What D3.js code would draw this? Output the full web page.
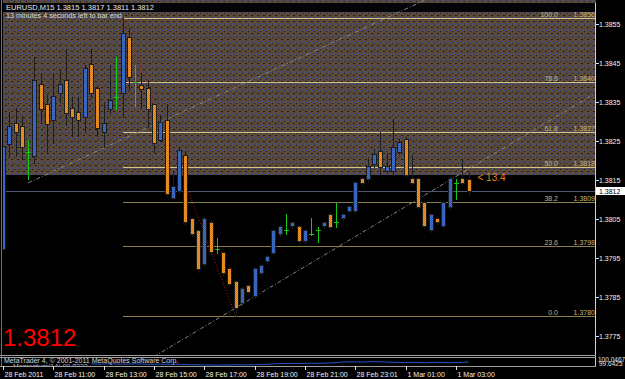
<!DOCTYPE html>
<html>
<head>
<meta charset="utf-8">
<script src="https://cdn.jsdelivr.net/npm/d3@7"></script>
<style>
html, body { margin: 0; padding: 0; background: #000; }
svg { display: block; font-family: "Liberation Sans", Arial, sans-serif; }
</style>
</head>
<body>
<div id="container"></div>
<script>
// EURUSD M15, bar 0 = 28 Feb 2011 09:00
const opens = [1.37973, 1.38241, 1.38293, 1.38285, 1.38221, 1.38211, 1.38393, 1.38341, 1.38303, 1.38372,
  1.38403, 1.38331, 1.38321, 1.38310, 1.38444, 1.38382, 1.38272, 1.38331, 1.38362, 1.38372,
  1.38513, 1.38400, 1.38390, 1.38382, 1.38341, 1.38252, 1.38300, 1.38103, 1.38121, 1.38211,
  1.38049, 1.38018, 1.37934, 1.38039, 1.37973, 1.37962, 1.37921, 1.37888, 1.37834, 1.37878,
  1.37852, 1.37911, 1.37942, 1.37962, 1.38011, 1.38021, 1.38031, 1.38029, 1.37993, 1.38011,
  1.38021, 1.38031, 1.38060, 1.38042, 1.38052, 1.38070, 1.38070, 1.38152, 1.38152, 1.38190,
  1.38221, 1.38172, 1.38172, 1.38221, 1.38252, 1.38152, 1.38152, 1.38090, 1.38021, 1.38049,
  1.38031, 1.38080, 1.38142, 1.38152, 1.38150];
const highs = [1.38234, 1.38323, 1.38334, 1.38313, 1.38252, 1.38464, 1.38423, 1.38367, 1.38423, 1.38434,
  1.38485, 1.38362, 1.38362, 1.38444, 1.38485, 1.38390, 1.38349, 1.38444, 1.38464, 1.38564,
  1.38538, 1.38444, 1.38423, 1.38405, 1.38344, 1.38316, 1.38344, 1.38170, 1.38234, 1.38224,
  1.38055, 1.38024, 1.38055, 1.38044, 1.38001, 1.37967, 1.37926, 1.37893, 1.37875, 1.37883,
  1.37926, 1.37934, 1.37957, 1.38024, 1.38034, 1.38062, 1.38044, 1.38034, 1.38024, 1.38052,
  1.38029, 1.38044, 1.38065, 1.38090, 1.38065, 1.38085, 1.38147, 1.38157, 1.38203, 1.38229,
  1.38272, 1.38218, 1.38305, 1.38254, 1.38259, 1.38213, 1.38157, 1.38095, 1.38065, 1.38055,
  1.38095, 1.38157, 1.38152, 1.38203, 1.38170];
const lows = [1.37970, 1.38208, 1.38211, 1.38203, 1.38152, 1.38193, 1.38295, 1.38221, 1.38244, 1.38349,
  1.38290, 1.38262, 1.38262, 1.38272, 1.38362, 1.38262, 1.38234, 1.38321, 1.38331, 1.38310,
  1.38380, 1.38339, 1.38334, 1.38285, 1.38221, 1.38249, 1.38108, 1.38098, 1.38116, 1.38034,
  1.38006, 1.37913, 1.37929, 1.37960, 1.37962, 1.37906, 1.37878, 1.37800, 1.37826, 1.37858,
  1.37847, 1.37906, 1.37937, 1.37957, 1.38006, 1.38011, 1.38026, 1.37988, 1.37988, 1.38008,
  1.37990, 1.38026, 1.38024, 1.38029, 1.38047, 1.38065, 1.38065, 1.38137, 1.38147, 1.38183,
  1.38162, 1.38167, 1.38162, 1.38216, 1.38157, 1.38137, 1.38075, 1.38026, 1.38016, 1.38037,
  1.38026, 1.38075, 1.38100, 1.38137, 1.38110];
const closes = [1.38234, 1.38285, 1.38272, 1.38234, 1.38221, 1.38403, 1.38331, 1.38293, 1.38362, 1.38393,
  1.38321, 1.38310, 1.38303, 1.38434, 1.38372, 1.38282, 1.38293, 1.38352, 1.38362, 1.38523,
  1.38413, 1.38400, 1.38382, 1.38331, 1.38244, 1.38295, 1.38113, 1.38131, 1.38224, 1.38042,
  1.38011, 1.37921, 1.38049, 1.37965, 1.37973, 1.37911, 1.37883, 1.37822, 1.37870, 1.37863,
  1.37921, 1.37929, 1.37952, 1.38018, 1.38029, 1.38021, 1.38039, 1.37993, 1.38018, 1.38011,
  1.38021, 1.38039, 1.38029, 1.38042, 1.38060, 1.38080, 1.38142, 1.38142, 1.38183, 1.38213,
  1.38183, 1.38183, 1.38231, 1.38244, 1.38162, 1.38142, 1.38080, 1.38031, 1.38060, 1.38042,
  1.38090, 1.38152, 1.38142, 1.38142, 1.38120];

// Momentum(14), starts at bar 14
const momentum = [99.74, 99.73, 99.73, 99.74, 99.73, 99.72, 99.73, 99.74, 99.73, 99.72,
  99.72, 99.73, 99.72, 99.71, 99.72, 99.71, 99.70, 99.70, 99.69, 99.69,
  99.68, 99.69, 99.69, 99.70, 99.69, 99.70, 99.70, 99.71, 99.72, 99.74,
  99.75, 99.75, 99.76, 99.75, 99.76, 99.77, 99.76, 99.77, 99.78, 99.80,
  99.82, 99.83, 99.83, 99.82, 99.83, 99.84, 99.83, 99.82, 99.81, 99.80,
  99.80, 99.81, 99.80, 99.79, 99.80, 99.81, 99.80, 99.79, 99.80, 99.81,
  99.8222];
const momentumRange = [99.6425, 100.0467];

// Fibonacci retracement from bar 19 high to bar 37 low
const fibRatios = [0.0, 23.6, 38.2, 50.0, 61.8, 78.6, 100.0];
const fibPrices = [1.37800, 1.37980, 1.38092, 1.38182, 1.38272, 1.38400, 1.38564];
const fibAnchors = [[19, 1.38564], [37, 1.37800]];

// shaded zone and trend lines
const zonePrices = [1.38700, 1.38162];
const trendUpper = [[4, 1.38142], [40, 1.38409]];
const trendLower = [[37, 1.37822], [70, 1.38139]];

const priceTicks = [1.3855, 1.3845, 1.3835, 1.3825, 1.3815, 1.3805, 1.3795, 1.3785, 1.3775];
const timeTickBars = [0, 8, 16, 24, 32, 40, 48, 56, 64, 72];
const timeTickLabels = ["28 Feb 2011", "28 Feb 11:00", "28 Feb 13:00", "28 Feb 15:00", "28 Feb 17:00",
  "28 Feb 19:00", "28 Feb 21:00", "28 Feb 23:01", "1 Mar 01:00", "1 Mar 03:00"];

const symbolTitle = "EURUSD,M15  1.3815 1.3817 1.3811 1.3812";
const timerText = "13 minutes 4 seconds left to bar end";
const lastPrice = 1.3812;
const pipsLabel = "< 13.4";

const width = 625, height = 379;
const plotLeft = 3, plotRight = 596, plotBottom = 355;

const x = d3.scaleLinear().domain([0, 74]).range([3, 468.5]);
const y = d3.scaleLinear().domain([1.3775, 1.3855]).range([336, 23.5]);
const ym = d3.scaleLinear().domain(momentumRange).range([366, 357]);
const fmt = d3.format(".4f");

const svg = d3.select("#container")
  .append("svg")
  .attr("width", width)
  .attr("height", height);

svg.append("rect").attr("width", width).attr("height", height).attr("fill", "#000");

const defs = svg.append("defs");

// stippled brown fill of the zone
const stip = defs.append("pattern")
  .attr("id", "stipple")
  .attr("patternUnits", "userSpaceOnUse")
  .attr("width", 6).attr("height", 6);
stip.append("rect").attr("width", 6).attr("height", 6).attr("fill", "#5a4a37");
[[0, 0], [3, 2], [1, 4], [4, 5]].forEach(p =>
  stip.append("rect").attr("x", p[0]).attr("y", p[1]).attr("width", 1).attr("height", 1).attr("fill", "#34479a"));
[[2, 1], [5, 3], [0, 3]].forEach(p =>
  stip.append("rect").attr("x", p[0]).attr("y", p[1]).attr("width", 1).attr("height", 1).attr("fill", "#201c1c"));

// dotted candle bodies
function bodyPattern(id, c1, c2) {
  const p = defs.append("pattern")
    .attr("id", id)
    .attr("patternUnits", "userSpaceOnUse")
    .attr("width", 2).attr("height", 2);
  p.append("rect").attr("width", 2).attr("height", 2).attr("fill", c1);
  p.append("rect").attr("width", 1).attr("height", 1).attr("fill", c2);
  p.append("rect").attr("x", 1).attr("y", 1).attr("width", 1).attr("height", 1).attr("fill", c2);
}
bodyPattern("bull", "#4272cc", "#2f58b0");
bodyPattern("bear", "#f39a2c", "#d47818");

defs.append("clipPath").attr("id", "plot")
  .append("rect").attr("x", plotLeft).attr("y", 0).attr("width", plotRight - plotLeft).attr("height", plotBottom);

const g = svg.append("g").attr("clip-path", "url(#plot)");

// zone
g.append("rect")
  .attr("x", plotLeft).attr("width", plotRight - plotLeft)
  .attr("y", y(zonePrices[0])).attr("height", y(zonePrices[1]) - y(zonePrices[0]))
  .attr("fill", "url(#stipple)");

// title band
g.append("rect").attr("x", plotLeft).attr("y", 3).attr("width", plotRight - plotLeft).attr("height", 9).attr("fill", "#050508");

// last price line
g.append("line")
  .attr("x1", plotLeft).attr("x2", plotRight)
  .attr("y1", Math.round(y(lastPrice)) + 0.5).attr("y2", Math.round(y(lastPrice)) + 0.5)
  .attr("stroke", "#4e5676").attr("stroke-width", 1);

// fib levels
const fibG = g.append("g");
fibPrices.forEach((p, i) => {
  const yy = Math.round(y(p)) + 0.5;
  const inZone = p > zonePrices[1];
  fibG.append("line")
    .attr("x1", Math.round(x(fibAnchors[0][0]))).attr("x2", plotRight)
    .attr("y1", yy).attr("y2", yy)
    .attr("stroke", inZone ? "#d4c48a" : "#8a7f4a").attr("stroke-width", 1);
  fibG.append("text")
    .attr("x", 558).attr("y", yy - 2)
    .attr("text-anchor", "end").attr("font-size", 7).attr("fill", "#c4b680")
    .text(fibRatios[i].toFixed(1));
  fibG.append("text")
    .attr("x", 595).attr("y", yy - 2)
    .attr("text-anchor", "end").attr("font-size", 7).attr("fill", "#c4b680")
    .text(fmt(p));
});

// trend lines, extended to the plot edges
function extend(a, b, fromStart) {
  const x1 = x(a[0]), y1 = y(a[1]), x2 = x(b[0]), y2 = y(b[1]);
  const k = (y2 - y1) / (x2 - x1);
  const xs = fromStart ? x1 : plotLeft - 50;
  const xe = plotRight + 50;
  return [[xs, y1 + k * (xs - x1)], [xe, y1 + k * (xe - x1)]];
}
[[trendUpper, true], [trendLower, false]].forEach(([t, fromStart]) => {
  g.append("path")
    .attr("d", d3.line()(extend(t[0], t[1], fromStart)))
    .attr("fill", "none").attr("stroke", "#858585").attr("stroke-width", 1)
    .attr("stroke-dasharray", "4,2,1,2");
});

// fib base line
g.append("line")
  .attr("x1", x(fibAnchors[0][0])).attr("y1", y(fibAnchors[0][1]))
  .attr("x2", x(fibAnchors[1][0])).attr("y2", y(fibAnchors[1][1]))
  .attr("stroke", "#c01818").attr("stroke-width", 1).attr("stroke-dasharray", "1,2");

// candles
const bars = d3.range(opens.length).map(i => ({
  i, o: opens[i], h: highs[i], l: lows[i], c: closes[i]
}));
const cg = g.append("g");
bars.forEach(d => {
  const cx = Math.round(x(d.i));
  if (d.o === d.c) {
    cg.append("line")
      .attr("x1", cx + 0.5).attr("x2", cx + 0.5)
      .attr("y1", Math.round(y(d.h))).attr("y2", Math.round(y(d.l)) + 1)
      .attr("stroke", "#14c814");
    cg.append("line")
      .attr("x1", cx - 2).attr("x2", cx + 3)
      .attr("y1", Math.round(y(d.o)) + 0.5).attr("y2", Math.round(y(d.o)) + 0.5)
      .attr("stroke", "#14c814");
    return;
  }
  const up = d.c > d.o;
  const yt = Math.round(y(Math.max(d.o, d.c)));
  const yb = Math.round(y(Math.min(d.o, d.c)));
  cg.append("line")
    .attr("x1", cx + 0.5).attr("x2", cx + 0.5)
    .attr("y1", Math.round(y(d.h))).attr("y2", Math.round(y(d.l)) + 1)
    .attr("stroke", "#1c1c1c");
  cg.append("rect")
    .attr("x", cx - 2).attr("y", yt - 1).attr("width", 5).attr("height", yb - yt + 2)
    .attr("fill", "#1c1c1c");
  cg.append("rect")
    .attr("x", cx - 1).attr("y", yt).attr("width", 3).attr("height", Math.max(1, yb - yt))
    .attr("fill", up ? "url(#bull)" : "url(#bear)");
});

// header texts
g.append("text").attr("x", 6).attr("y", 10).attr("font-size", 7.5).attr("fill", "#e8e8e8").text(symbolTitle);
g.append("text").attr("x", 6).attr("y", 18).attr("font-size", 7.2).attr("fill", "#d8d8d8").text(timerText);

// pips label next to last bar
g.append("text")
  .attr("x", x(74) + 9).attr("y", y(closes[74]) - 10)
  .attr("font-size", 10).attr("fill", "#e8801e").text(pipsLabel);

// big price
svg.append("text").attr("x", 3).attr("y", 346).attr("font-size", 24).attr("fill", "#ff0000").text(fmt(lastPrice));

// frame
svg.append("line").attr("x1", 1.5).attr("x2", 1.5).attr("y1", 0).attr("y2", 366).attr("stroke", "#707070");
svg.append("line").attr("x1", plotRight - 0.5).attr("x2", plotRight - 0.5).attr("y1", 3).attr("y2", 366).attr("stroke", "#d0d0d0");
[355.5, 357.5, 366.5].forEach(v =>
  svg.append("line").attr("x1", 0).attr("x2", plotRight).attr("y1", v).attr("y2", v).attr("stroke", "#a0a0a0"));

// price axis
const pa = svg.append("g");
priceTicks.forEach(p => {
  const yy = Math.round(y(p)) + 0.5;
  pa.append("line").attr("x1", plotRight).attr("x2", plotRight + 3).attr("y1", yy).attr("y2", yy).attr("stroke", "#e0e0e0");
  pa.append("text").attr("x", 599).attr("y", yy + 2.5).attr("font-size", 7).attr("fill", "#f0f0f0").text(fmt(p));
});
const ly = Math.round(y(lastPrice));
pa.append("rect").attr("x", plotRight).attr("y", ly - 4).attr("width", 29).attr("height", 8).attr("fill", "#fff");
pa.append("text").attr("x", 599).attr("y", ly + 2.5).attr("font-size", 7).attr("fill", "#000").text(fmt(lastPrice));

// momentum subwindow
defs.append("clipPath").attr("id", "sub")
  .append("rect").attr("x", plotLeft).attr("y", 358).attr("width", plotRight - plotLeft).attr("height", 8);
const sub = svg.append("g").attr("clip-path", "url(#sub)");
sub.append("path")
  .datum(momentum)
  .attr("d", d3.line().x((d, i) => x(i + 14)).y(d => ym(d)))
  .attr("fill", "none").attr("stroke", "#2456c8").attr("stroke-width", 1);
sub.append("text").attr("x", 4).attr("y", 362.5).attr("font-size", 7).attr("fill", "#d8d8d8")
  .text("MetaTrader 4, \u00a9 2001-2011 MetaQuotes Software Corp.");
sub.append("text").attr("x", 13).attr("y", 369).attr("font-size", 7).attr("fill", "#b0b0b0")
  .text("Momentum(14) " + momentum[momentum.length - 1].toFixed(4));
svg.append("text").attr("x", 598).attr("y", 362).attr("font-size", 6.5).attr("fill", "#e0e0e0").text(momentumRange[1].toFixed(4));
svg.append("text").attr("x", 599).attr("y", 366).attr("font-size", 6.5).attr("fill", "#e0e0e0").text(momentumRange[0].toFixed(4));

// time axis
const ta = svg.append("g");
timeTickBars.forEach((b, i) => {
  const tx = Math.round(x(b)) + 0.5;
  ta.append("line").attr("x1", tx).attr("x2", tx).attr("y1", 366).attr("y2", 370).attr("stroke", "#e0e0e0");
  ta.append("text").attr("x", tx + 1).attr("y", 377).attr("font-size", 7).attr("fill", "#f0f0f0").text(timeTickLabels[i]);
});
</script>
</body>
</html>
